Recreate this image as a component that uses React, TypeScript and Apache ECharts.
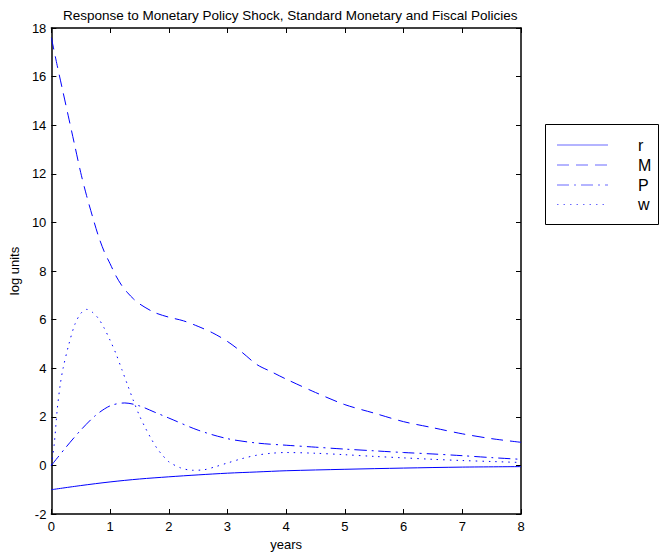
import React, { useEffect, useRef } from "react";
import * as echarts from "echarts";

const rYears = [0, 0.5, 1, 1.5, 2, 2.5, 3, 3.5, 4, 5, 6, 7, 8];
const rValues = [-1, -0.83, -0.68, -0.56, -0.47, -0.39, -0.32, -0.27, -0.22, -0.16, -0.11, -0.07, -0.05];

const mYears = [0, 0.1, 0.2, 0.3, 0.4, 0.5, 0.6, 0.7, 0.8, 0.9, 1.0, 1.1, 1.2, 1.3, 1.4, 1.5, 1.75, 2, 2.25, 2.5, 2.75, 3, 3.25, 3.5, 3.75, 4, 4.5, 5, 5.5, 6, 6.5, 7, 7.5, 8];
const mValues = [17.6, 16.45, 15.35, 14.25, 13.15, 12.05, 11.1, 10.25, 9.45, 8.8, 8.3, 7.8, 7.4, 7.1, 6.85, 6.65, 6.3, 6.1, 5.95, 5.72, 5.45, 5.1, 4.65, 4.15, 3.85, 3.55, 3.0, 2.5, 2.15, 1.8, 1.55, 1.3, 1.1, 0.95];

const pYears = [0, 0.25, 0.5, 0.75, 1, 1.25, 1.5, 1.75, 2, 2.5, 3, 3.5, 4, 4.5, 5, 5.5, 6, 6.5, 7, 7.5, 8];
const pValues = [0, 0.75, 1.45, 2.05, 2.45, 2.57, 2.45, 2.2, 1.95, 1.45, 1.1, 0.92, 0.83, 0.75, 0.67, 0.6, 0.53, 0.47, 0.4, 0.32, 0.25];

const wYears = [0, 0.05, 0.1, 0.15, 0.2, 0.3, 0.4, 0.5, 0.6, 0.7, 0.8, 0.9, 1.0, 1.1, 1.2, 1.3, 1.4, 1.5, 1.6, 1.7, 1.8, 1.9, 2.0, 2.2, 2.4, 2.6, 2.8, 3, 3.25, 3.5, 3.75, 4, 4.5, 5, 5.5, 6, 6.5, 7, 7.5, 8];
const wValues = [0, 0.9, 2.3, 3.3, 4.0, 5.0, 5.8, 6.25, 6.42, 6.3, 6.05, 5.65, 5.15, 4.6, 3.95, 3.3, 2.65, 2.05, 1.55, 1.1, 0.7, 0.4, 0.15, -0.1, -0.2, -0.18, -0.05, 0.1, 0.28, 0.42, 0.5, 0.53, 0.5, 0.44, 0.37, 0.31, 0.25, 0.2, 0.16, 0.12];

const seriesNames = ["r", "M", "P", "w"];
const titleText = "Response to Monetary Policy Shock, Standard Monetary and Fiscal Policies";
const xTitle = "years";
const yTitle = "log units";

const BLUE = "#0000ff";
const dashes: (number[] | "solid")[] = ["solid", [12, 7], [12, 5, 2, 5], [1.5, 5]];

function pairs(xs: number[], ys: number[]) {
  return xs.map((x, i) => [x, ys[i]]);
}

export default function App() {
  const ref = useRef<HTMLDivElement>(null);
  useEffect(() => {
    if (!ref.current) return;
    const chart = echarts.init(ref.current, undefined, { renderer: "svg" });
    const font = "Liberation Sans, Arial, sans-serif";
    const data = [pairs(rYears, rValues), pairs(mYears, mValues), pairs(pYears, pValues), pairs(wYears, wValues)];
    const left = 49.5, top = 28, right = 521, bottom = 514;
    const axisLine = { show: true, onZero: false, lineStyle: { color: "#000", width: 1.5 } };
    const tick = { show: true, inside: true, length: 5, lineStyle: { color: "#000", width: 1 } };

    const legendX0 = 557, legendX1 = 608, rowY = [145, 165, 185, 204.5];
    const legendGraphics: any[] = [
      { type: "rect", shape: { x: 545.5, y: 124.5, width: 113, height: 100 }, style: { fill: "#fff", stroke: "#000", lineWidth: 1 }, z: 10 },
    ];
    seriesNames.forEach((n, i) => {
      legendGraphics.push({
        type: "line",
        shape: { x1: legendX0, y1: rowY[i], x2: legendX1, y2: rowY[i] },
        style: { stroke: "#6a6aff", lineWidth: 1.2, lineDash: dashes[i] === "solid" ? null : dashes[i] },
        z: 11,
      });
      legendGraphics.push({
        type: "text",
        x: 638,
        y: rowY[i],
        style: { text: n, font: `16px ${font}`, fill: "#000", textVerticalAlign: "middle", verticalAlign: "middle" },
        z: 11,
      });
    });

    chart.setOption({
      animation: false,
      backgroundColor: "#fff",
      title: {
        text: titleText,
        left: (left + right) / 2,
        textAlign: "center",
        top: 3,
        textStyle: { fontFamily: font, fontSize: 13.5, fontWeight: "normal", color: "#000" },
      },
      grid: { left, top, width: right - left, height: bottom - top, show: false },
      xAxis: [
        {
          type: "value", min: 0, max: 8, interval: 1, position: "bottom",
          axisLine, axisTick: tick, splitLine: { show: false },
          axisLabel: { fontFamily: font, fontSize: 13, color: "#000", margin: 6 },
          name: xTitle, nameLocation: "middle", nameGap: 24,
          nameTextStyle: { fontFamily: font, fontSize: 13, color: "#000" },
        },
        {
          type: "value", min: 0, max: 8, interval: 1, position: "top",
          axisLine, axisTick: tick, splitLine: { show: false }, axisLabel: { show: false },
        },
      ],
      yAxis: [
        {
          type: "value", min: -2, max: 18, interval: 2, position: "left",
          axisLine, axisTick: tick, splitLine: { show: false },
          axisLabel: { fontFamily: font, fontSize: 13, color: "#000", margin: 5 },
          name: yTitle, nameLocation: "middle", nameGap: 27, nameRotate: 90,
          nameTextStyle: { fontFamily: font, fontSize: 13, color: "#000" },
        },
        {
          type: "value", min: -2, max: 18, interval: 2, position: "right",
          axisLine, axisTick: tick, splitLine: { show: false }, axisLabel: { show: false },
        },
      ],
      series: seriesNames.map((n, i) => ({
        name: n,
        type: "line",
        data: data[i],
        showSymbol: false,
        symbol: "none",
        smooth: 0.3,
        lineStyle: { color: BLUE, width: 1, type: dashes[i] },
        xAxisIndex: 0,
        yAxisIndex: 0,
      })),
      graphic: legendGraphics,
    });
    return () => chart.dispose();
  }, []);
  return <div ref={ref} style={{ position: "fixed", left: 0, top: 0, width: 660, height: 556 }} />;
}
